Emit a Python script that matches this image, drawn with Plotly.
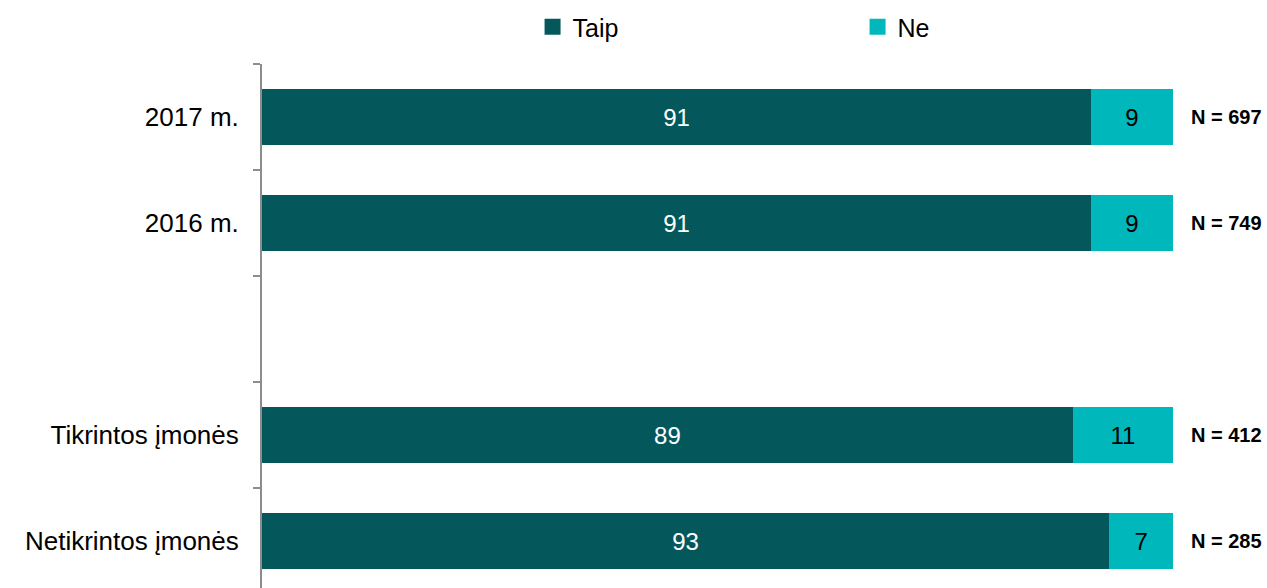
import plotly.graph_objects as go

categories = ["2017 m.", "2016 m.", " ", "Tikrintos įmonės", "Netikrintos įmonės"]
taip = [91, 91, None, 89, 93]
ne = [9, 9, None, 11, 7]
n_labels = ["N = 697", "N = 749", "", "N = 412", "N = 285"]

dark = "#04585C"
cyan = "#00B8BC"
font_family = "Liberation Sans, Arial, sans-serif"

fig = go.Figure()
fig.add_trace(go.Bar(
    y=categories, x=taip, orientation="h", name="Taip",
    marker=dict(color=dark, line=dict(width=0)),
    text=[str(v) if v is not None else "" for v in taip],
    textposition="inside", insidetextanchor="middle",
    textfont=dict(color="white", size=24, family=font_family),
    showlegend=False,
))
fig.add_trace(go.Bar(
    y=categories, x=ne, orientation="h", name="Ne",
    marker=dict(color=cyan, line=dict(width=0)),
    text=[str(v) if v is not None else "" for v in ne],
    textposition="inside", insidetextanchor="middle",
    textfont=dict(color="black", size=24, family=font_family),
    showlegend=False,
))
# legend entries
for name, col in [("Taip", dark), ("Ne", cyan)]:
    fig.add_trace(go.Scatter(
        x=[None], y=[None], mode="markers", name=name,
        marker=dict(symbol="square", size=18, color=col),
        showlegend=True,
    ))

for cat, lab in zip(categories, n_labels):
    if lab:
        fig.add_annotation(
            x=1, xref="paper", y=cat, yref="y", text="<b>" + lab + "</b>",
            showarrow=False, xanchor="left", xshift=16,
            font=dict(size=20, color="black", family=font_family),
        )

fig.update_layout(
    width=1267, height=588,
    barmode="stack", bargap=0.48,
    margin=dict(l=262, r=94, t=64, b=0),
    plot_bgcolor="white", paper_bgcolor="white",
    font=dict(family=font_family, color="black", size=24),
    legend=dict(
        orientation="h", x=0.297, xanchor="left", traceorder="normal",
        y=1 - 27 / 588, yref="container", yanchor="middle",
        entrywidth=280, entrywidthmode="pixels",
        font=dict(size=25, family=font_family),
        itemsizing="trace",
    ),
    xaxis=dict(range=[0, 100], visible=False, fixedrange=True),
    yaxis=dict(
        type="category", categoryorder="array", categoryarray=categories,
        range=[4.443, -0.5],
        showline=True, linecolor="#8C8C8C", linewidth=2,
        ticks="outside", ticklen=7, tickcolor="#8C8C8C", tickwidth=2,
        tickson="boundaries", showgrid=False, zeroline=False,
        ticklabelstandoff=16,
        tickfont=dict(size=26, color="black", family=font_family),
    ),
)

fig.write_html(
    "out.html",
    config={"displayModeBar": False},
    post_script="document.body.style.margin='0px';document.body.style.overflow='hidden';",
)
